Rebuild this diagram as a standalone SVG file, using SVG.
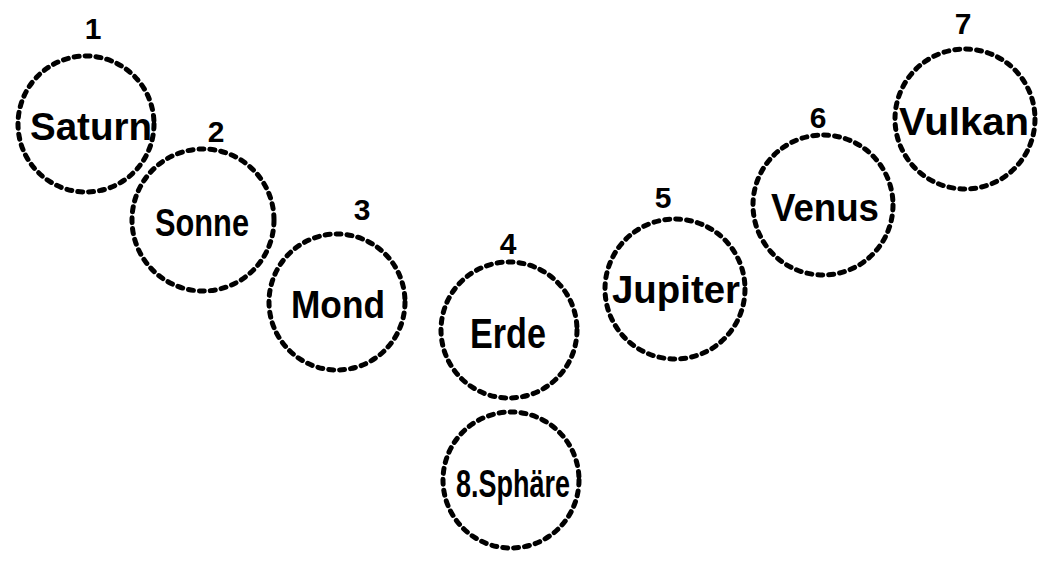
<svg xmlns="http://www.w3.org/2000/svg" width="1041" height="566" viewBox="0 0 1041 566">
<style>
.c{fill:none;stroke:#000;stroke-width:5;stroke-dasharray:5 6;stroke-linecap:round}
.t{font-family:"Liberation Sans",sans-serif;font-weight:bold;font-size:38px;text-anchor:middle;fill:#000}
.n{font-family:"Liberation Sans",sans-serif;font-weight:bold;font-size:30px;text-anchor:middle;fill:#000}
</style>
<rect width="1041" height="566" fill="#fff"/>
<g id="saturn"><circle class="c" cx="86" cy="124" r="68"/><text class="n" x="93" y="39">1</text><text class="t" x="91" y="140" textLength="122" lengthAdjust="spacingAndGlyphs">Saturn</text></g>
<g id="sonne"><circle class="c" cx="203" cy="220" r="71"/><text class="n" x="216" y="142">2</text><text class="t" x="202" y="236" textLength="94" lengthAdjust="spacingAndGlyphs">Sonne</text></g>
<g id="mond"><circle class="c" cx="337" cy="302" r="68"/><text class="n" x="362" y="220">3</text><text class="t" x="338" y="318" textLength="94" lengthAdjust="spacingAndGlyphs">Mond</text></g>
<g id="erde"><circle class="c" cx="509" cy="330" r="68"/><text class="n" x="508" y="254">4</text><text class="t" x="508" y="348" textLength="76" lengthAdjust="spacingAndGlyphs" style="font-size:42px">Erde</text></g>
<g id="sphaere"><circle class="c" cx="511" cy="480" r="68"/><text class="t" x="513" y="497" textLength="114" lengthAdjust="spacingAndGlyphs">8.Sphäre</text></g>
<g id="jupiter"><circle class="c" cx="675" cy="289" r="70"/><text class="n" x="663" y="208">5</text><text class="t" x="676" y="303" textLength="128" lengthAdjust="spacingAndGlyphs">Jupiter</text></g>
<g id="venus"><circle class="c" cx="823" cy="205" r="70"/><text class="n" x="818" y="128">6</text><text class="t" x="825" y="221" textLength="108" lengthAdjust="spacingAndGlyphs">Venus</text></g>
<g id="vulkan"><circle class="c" cx="965" cy="119" r="70"/><text class="n" x="963" y="34">7</text><text class="t" x="964" y="135" textLength="130" lengthAdjust="spacingAndGlyphs">Vulkan</text></g>
<g id="connectors"/>
</svg>
